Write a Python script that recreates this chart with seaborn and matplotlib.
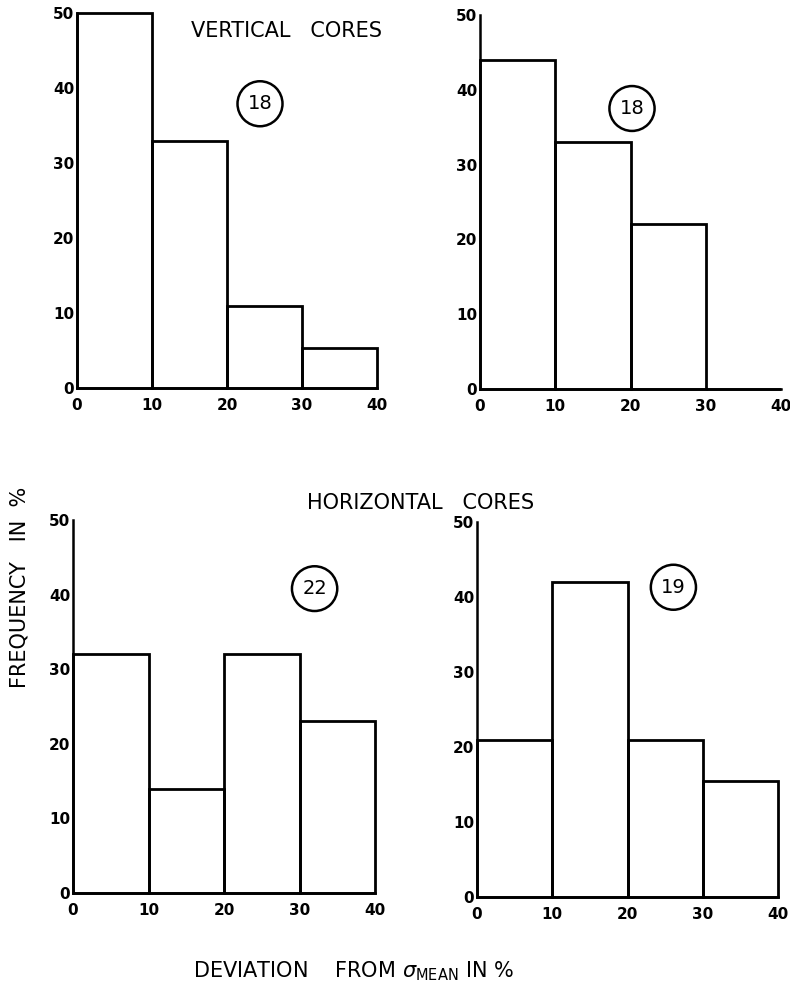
import numpy as np
import pandas as pd
import matplotlib
matplotlib.use("Agg")
import matplotlib.pyplot as plt
from matplotlib.patches import Ellipse
import seaborn as sns

# ---- data ----
bin_edges = [0, 10, 20, 30, 40]
bin_centers = [5, 15, 25, 35]
vertical_a = [50, 33, 11, 5.3]      # top-left, circled 18
vertical_b = [44, 33, 22, 0]        # top-right, circled 18
horizontal_a = [32, 14, 32, 23]     # bottom-left, circled 22
horizontal_b = [21, 42, 21, 15.5]   # bottom-right, circled 19
sample_counts = ["18", "18", "22", "19"]
x_ticks = [0, 10, 20, 30, 40]
y_ticks = [0, 10, 20, 30, 40, 50]

sns.set_style("white")
plt.rcParams['font.family'] = ['DejaVu Sans']
plt.rcParams['text.color'] = 'black'
plt.rcParams['axes.labelcolor'] = 'black'
plt.rcParams['xtick.color'] = 'black'
plt.rcParams['ytick.color'] = 'black'

W, H = 790, 994
fig = plt.figure(figsize=(W / 100, H / 100), dpi=100)

def box(x0, x1, ytop, ybot):
    return [x0 / W, 1 - ybot / H, (x1 - x0) / W, (ybot - ytop) / H]

panels = [
    (box(77, 377, 13, 388), vertical_a, sample_counts[0], (24.4, 37.9)),
    (box(480, 781, 15, 389), vertical_b, sample_counts[1], (20.2, 37.5)),
    (box(73, 375, 520, 893), horizontal_a, sample_counts[2], (32.0, 40.8)),
    (box(477, 778, 522, 897), horizontal_b, sample_counts[3], (26.1, 41.3)),
]

for rect, vals, label, cxy in panels:
    ax = fig.add_axes(rect)
    df = pd.DataFrame({"dev": bin_centers, "freq": vals})
    df = df[df["freq"] > 0]
    sns.histplot(data=df, x="dev", weights="freq", bins=bin_edges, fill=False,
                 color="black", linewidth=2.0, ax=ax, element="bars")
    for p in ax.patches:
        p.set_clip_on(False)
        p.set_edgecolor("black")
    ax.set_xlim(0, 40)
    ax.set_ylim(0, 50)
    ax.set_xticks(x_ticks)
    ax.set_yticks(y_ticks)
    ax.set_xlabel("")
    ax.set_ylabel("")
    for s in ["top", "right"]:
        ax.spines[s].set_visible(False)
    for s in ["left", "bottom"]:
        ax.spines[s].set_linewidth(1.8)
        ax.spines[s].set_color("black")
    ax.tick_params(axis="y", direction="in", length=8, width=1.5, pad=2,
                   labelsize=11, colors="black")
    ax.tick_params(axis="x", direction="in", length=6, width=1.5, pad=7,
                   labelsize=11, colors="black")
    for t in ax.get_xticklabels() + ax.get_yticklabels():
        t.set_fontweight("bold")
    ax.patch.set_alpha(0)
    ax.add_patch(Ellipse(cxy, 6.0, 6.0, fill=False, edgecolor="black",
                         linewidth=1.8, clip_on=False))
    ax.text(cxy[0], cxy[1], label, ha="center", va="center", fontsize=14,
            color="black")

fig.text(286.5 / W, 1 - 37 / H, "VERTICAL   CORES", ha="center", va="baseline",
         fontsize=15, color="black")
fig.text(420.5 / W, 1 - 509 / H, "HORIZONTAL   CORES", ha="center", va="baseline",
         fontsize=15, color="black")
fig.text(19.5 / W, 1 - 587.5 / H, "FREQUENCY   IN  %", ha="center", va="center",
         rotation=90, fontsize=15, color="black")
fig.text(354 / W, 1 - 977 / H,
         r"DEVIATION    FROM $\sigma_{\mathrm{MEAN}}$ IN %",
         ha="center", va="baseline", fontsize=15, color="black")

fig.savefig("out.png", dpi=100, facecolor="white")
